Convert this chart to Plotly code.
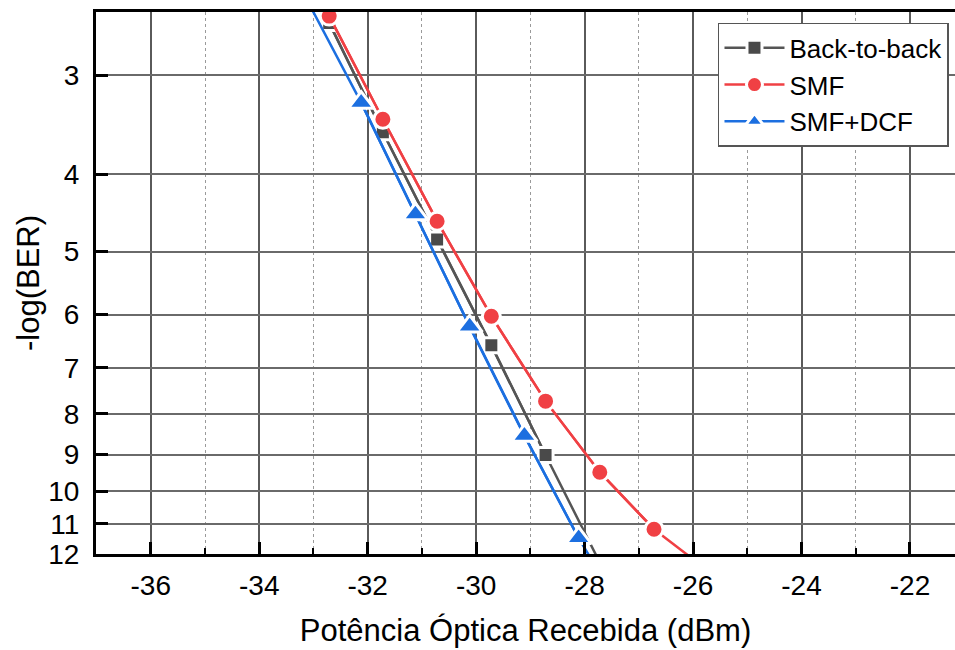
import math
import plotly.graph_objects as go

# Measured points: received optical power (dBm) vs -log(BER)
b2b_x = [-32.71, -31.72, -30.72, -29.72, -28.72]
b2b_y = [2.58, 3.54, 4.83, 6.56, 9.01]

smf_x = [-32.71, -31.72, -30.72, -29.72, -28.72, -27.72, -26.72]
smf_y = [2.53, 3.41, 4.58, 6.03, 7.71, 9.47, 11.17]

dcf_x = [-32.12, -31.12, -30.12, -29.11, -28.11]
dcf_y = [3.25, 4.49, 6.21, 8.52, 11.46]

# Extrapolated curve ends (beyond the plotted range)
b2b_ext_x = [-32.88, -27.72]
b2b_ext_y = [2.45, 12.3]
smf_ext_x = [-32.83, -25.92]
smf_ext_y = [2.45, 12.3]
dcf_ext_x = [-33.07, -27.84]
dcf_ext_y = [2.45, 12.3]

x_ticks = [-36, -34, -32, -30, -28, -26, -24, -22]
y_ticks = [3, 4, 5, 6, 7, 8, 9, 10, 11, 12]

series = [
    ("Back-to-back", b2b_x, b2b_y, b2b_ext_x, b2b_ext_y, "#4a4a4a", "#555555", "square", 15),
    ("SMF", smf_x, smf_y, smf_ext_x, smf_ext_y, "#f04044", "#f04044", "circle", 18),
    ("SMF+DCF", dcf_x, dcf_y, dcf_ext_x, dcf_ext_y, "#1c6fe0", "#1c6fe0", "triangle-up", 22),
]

fig = go.Figure()
for name, xs, ys, ex, ey, mcol, lcol, sym, msize in series:
    # full curve including extrapolated ends
    fig.add_trace(go.Scatter(
        x=[ex[0]] + xs + [ex[1]], y=[ey[0]] + ys + [ey[1]],
        mode="lines", line=dict(color=lcol, width=2.5),
        showlegend=False, hoverinfo="skip", cliponaxis=True,
    ))
    fig.add_trace(go.Scatter(
        x=xs, y=ys, name=name, mode="lines+markers",
        line=dict(color=lcol, width=2.5),
        marker=dict(symbol=sym, size=msize, color=mcol,
                    line=dict(color="white", width=3)),
        cliponaxis=True,
    ))

font_family = "Liberation Sans, Arial, sans-serif"

fig.update_layout(
    width=955, height=650,
    margin=dict(l=96, r=0, t=12, b=96),
    paper_bgcolor="white", plot_bgcolor="white",
    font=dict(family=font_family, color="black", size=28),
    legend=dict(
        x=0.993, y=0.98, xanchor="right", yanchor="top",
        bgcolor="white", bordercolor="#555555", borderwidth=1.5,
        font=dict(size=26, family=font_family), itemwidth=60,
        tracegroupgap=0,
    ),
    showlegend=True,
)

fig.update_xaxes(
    range=[-37.01, -21.17],
    tickvals=x_ticks, ticktext=[str(v) for v in x_ticks],
    ticks="inside", ticklen=12, tickwidth=2.5, tickcolor="black",
    showline=True, linecolor="black", linewidth=3, mirror=True,
    showgrid=True, gridcolor="#5a5a5a", gridwidth=1.5,
    minor=dict(dtick=1, tick0=-37, ticks="inside", ticklen=6, tickwidth=2,
               tickcolor="black", showgrid=True, gridcolor="#9a9a9a",
               gridwidth=1, griddash="dot"),
    zeroline=False,
    tickfont=dict(size=28),
    ticklabelstandoff=4,
    title=dict(text="Potência Óptica Recebida (dBm)", font=dict(size=31), standoff=20),
)

fig.update_yaxes(
    type="log",
    range=[math.log10(12), math.log10(2.5)],
    tickvals=y_ticks, ticktext=[str(v) for v in y_ticks],
    ticks="inside", ticklen=12, tickwidth=2.5, tickcolor="black",
    showline=True, linecolor="black", linewidth=3, mirror=False,
    showgrid=True, gridcolor="#6a6a6a", gridwidth=1.5,
    zeroline=False,
    tickfont=dict(size=28),
    ticklabelstandoff=8,
    title=dict(text="-log(BER)", font=dict(size=31), standoff=0),
)

fig.write_html("out.html")
